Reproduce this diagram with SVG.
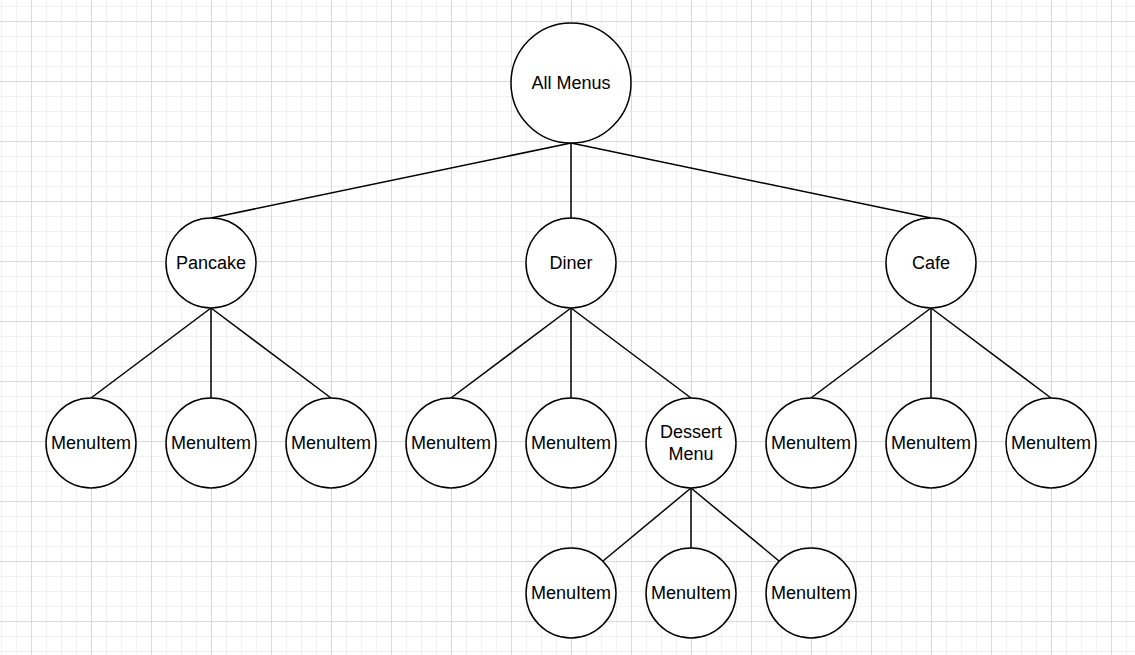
<svg xmlns="http://www.w3.org/2000/svg" width="1135" height="655" viewBox="0 0 1135 655">
<defs>
<pattern id="minor" x="1" y="6" width="15" height="15" patternUnits="userSpaceOnUse">
<path d="M0 0.5H15M0.5 0V15" fill="none" stroke="#f1f1f1" stroke-width="1"/>
</pattern>
<pattern id="major" x="31" y="21" width="60" height="60" patternUnits="userSpaceOnUse">
<path d="M0 0.5H60M0.5 0V60" fill="none" stroke="#d9d9d9" stroke-width="1"/>
</pattern>
</defs>
<style>
.n circle{fill:#fff;stroke:#000;stroke-width:1.5}
.n text{font-family:"Liberation Sans",Arial,sans-serif;font-size:18px;fill:#000;text-anchor:middle}
#edges line{stroke:#000;stroke-width:1.5}
</style>
<rect width="1135" height="655" fill="#fff"/>
<rect width="1135" height="655" fill="url(#minor)"/>
<rect width="1135" height="655" fill="url(#major)"/>
<g id="edges">
<line x1="571" y1="143" x2="211" y2="218"/>
<line x1="571" y1="143" x2="571" y2="218"/>
<line x1="571" y1="143" x2="931" y2="218"/>
<line x1="211" y1="308" x2="91" y2="398"/>
<line x1="211" y1="308" x2="211" y2="398"/>
<line x1="211" y1="308" x2="331" y2="398"/>
<line x1="571" y1="308" x2="451" y2="398"/>
<line x1="571" y1="308" x2="571" y2="398"/>
<line x1="571" y1="308" x2="691" y2="398"/>
<line x1="931" y1="308" x2="811" y2="398"/>
<line x1="931" y1="308" x2="931" y2="398"/>
<line x1="931" y1="308" x2="1051" y2="398"/>
<line x1="691" y1="488" x2="603" y2="561"/>
<line x1="691" y1="488" x2="691" y2="548"/>
<line x1="691" y1="488" x2="779" y2="561"/>
</g>
<g id="all-menus" class="n"><circle cx="571" cy="83" r="60"/><text x="571" y="88.5">All Menus</text></g>
<g id="pancake" class="n"><circle cx="211" cy="263" r="45"/><text x="211" y="268.5">Pancake</text></g>
<g id="diner" class="n"><circle cx="571" cy="263" r="45"/><text x="571" y="268.5">Diner</text></g>
<g id="cafe" class="n"><circle cx="931" cy="263" r="45"/><text x="931" y="268.5">Cafe</text></g>
<g id="p1" class="n"><circle cx="91" cy="443" r="45"/><text x="91" y="448.5">MenuItem</text></g>
<g id="p2" class="n"><circle cx="211" cy="443" r="45"/><text x="211" y="448.5">MenuItem</text></g>
<g id="p3" class="n"><circle cx="331" cy="443" r="45"/><text x="331" y="448.5">MenuItem</text></g>
<g id="d1" class="n"><circle cx="451" cy="443" r="45"/><text x="451" y="448.5">MenuItem</text></g>
<g id="d2" class="n"><circle cx="571" cy="443" r="45"/><text x="571" y="448.5">MenuItem</text></g>
<g id="dessert" class="n"><circle cx="691" cy="443" r="45"/><text x="691" y="437.5">Dessert</text><text x="691" y="460">Menu</text></g>
<g id="c1" class="n"><circle cx="811" cy="443" r="45"/><text x="811" y="448.5">MenuItem</text></g>
<g id="c2" class="n"><circle cx="931" cy="443" r="45"/><text x="931" y="448.5">MenuItem</text></g>
<g id="c3" class="n"><circle cx="1051" cy="443" r="45"/><text x="1051" y="448.5">MenuItem</text></g>
<g id="s1" class="n"><circle cx="571" cy="593" r="45"/><text x="571" y="598.5">MenuItem</text></g>
<g id="s2" class="n"><circle cx="691" cy="593" r="45"/><text x="691" y="598.5">MenuItem</text></g>
<g id="s3" class="n"><circle cx="811" cy="593" r="45"/><text x="811" y="598.5">MenuItem</text></g>
</svg>
